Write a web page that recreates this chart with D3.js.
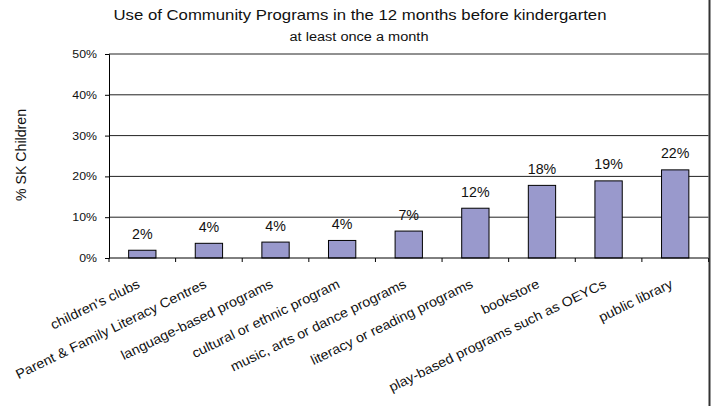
<!DOCTYPE html>
<html>
<head>
<meta charset="utf-8">
<script src="https://cdn.jsdelivr.net/npm/d3@7/dist/d3.min.js"></script>
<style>
  html, body { margin: 0; padding: 0; background: #fff; }
  svg { display: block; font-family: "Liberation Sans", Arial, sans-serif; }
</style>
</head>
<body>
<svg id="chart" width="712" height="406"></svg>
<script>
// Community program use, share of SK children (percent)
const categories = [
  "children's clubs",
  "Parent & Family Literacy Centres",
  "language-based programs",
  "cultural or ethnic program",
  "music, arts or dance programs",
  "literacy or reading programs",
  "bookstore",
  "play-based programs such as OEYCs",
  "public library"
];
const values = [1.9, 3.6, 3.9, 4.3, 6.6, 12.2, 17.8, 18.9, 21.6];
const yTicks = [0, 10, 20, 30, 40, 50];
const titleText = "Use of Community Programs in the 12 months before kindergarten";
const subtitleText = "at least once a month";
const yAxisTitle = "% SK Children";

const svg = d3.select("#chart");
const W = 712, H = 406;
const plot = { left: 109, right: 708.5, top: 54, bottom: 258 };

const x = d3.scaleBand().domain(categories).range([plot.left, plot.right]).padding(0);
const y = d3.scaleLinear().domain([0, 50]).range([plot.bottom, plot.top]);

// stretch helper: widen text horizontally by a factor
function stretch(sel, factor) {
  sel.each(function () {
    const len = this.getComputedTextLength();
    d3.select(this).attr("textLength", len * factor).attr("lengthAdjust", "spacingAndGlyphs");
  });
}

// horizontal gridlines
svg.append("g")
  .selectAll("line")
  .data(yTicks.filter(d => d > 0))
  .join("line")
  .attr("x1", plot.left).attr("x2", plot.right)
  .attr("y1", d => y(d)).attr("y2", d => y(d))
  .attr("stroke", "#222").attr("stroke-width", 1);

// y axis
const yAxis = svg.append("g")
  .attr("transform", `translate(${plot.left},0)`)
  .call(d3.axisLeft(y).tickValues(yTicks).tickFormat(d => d + "%").tickSize(4).tickPadding(8));
yAxis.select(".domain").attr("stroke", "#000");
yAxis.selectAll(".tick line").attr("stroke", "#000");
yAxis.selectAll("text")
  .attr("font-size", 11)
  .attr("font-family", "Liberation Sans, Arial, sans-serif")
  .attr("fill", "#111")
  .call(stretch, 1.12);

// bars
const barW = x.bandwidth() * 0.41;
svg.append("g")
  .selectAll("rect")
  .data(values)
  .join("rect")
  .attr("x", (d, i) => x(categories[i]) + (x.bandwidth() - barW) / 2)
  .attr("y", d => y(d))
  .attr("width", barW)
  .attr("height", d => y(0) - y(d))
  .attr("fill", "#9999cc")
  .attr("stroke", "#000")
  .attr("stroke-width", 1);

// x axis with boundary ticks
const xAxisG = svg.append("g").attr("transform", `translate(0,${plot.bottom})`);
xAxisG.append("line")
  .attr("x1", plot.left).attr("x2", plot.right)
  .attr("y1", 0).attr("y2", 0)
  .attr("stroke", "#000");
const boundaries = categories.map(c => x(c)).concat([plot.right]);
xAxisG.selectAll("line.tk")
  .data(boundaries)
  .join("line")
  .attr("class", "tk")
  .attr("x1", d => d).attr("x2", d => d)
  .attr("y1", 0).attr("y2", 4)
  .attr("stroke", "#000");

// category labels, rotated
svg.append("g")
  .selectAll("text")
  .data(categories)
  .join("text")
  .attr("transform", d => `translate(${x(d) + x.bandwidth() / 2 - 1.5},287) rotate(-26)`)
  .attr("text-anchor", "end")
  .attr("font-size", 13.4)
  .attr("fill", "#111")
  .text(d => d)
  .call(stretch, 1.07);

// value labels
svg.append("g")
  .selectAll("text")
  .data(values)
  .join("text")
  .attr("x", (d, i) => x(categories[i]) + x.bandwidth() / 2)
  .attr("y", d => y(d) - 11.5)
  .attr("text-anchor", "middle")
  .attr("font-size", 13.8)
  .attr("fill", "#111")
  .text(d => Math.round(d) + "%")
  .call(stretch, 1.03);

// titles
svg.append("text")
  .attr("x", 360).attr("y", 20)
  .attr("text-anchor", "middle")
  .attr("font-size", 14.2)
  .attr("fill", "#111")
  .text(titleText)
  .attr("textLength", 493).attr("lengthAdjust", "spacingAndGlyphs");

svg.append("text")
  .attr("x", 359).attr("y", 40.5)
  .attr("text-anchor", "middle")
  .attr("font-size", 12.5)
  .attr("fill", "#111")
  .text(subtitleText)
  .attr("textLength", 139).attr("lengthAdjust", "spacingAndGlyphs");

// y axis title
svg.append("text")
  .attr("transform", "translate(26,155) rotate(-90)")
  .attr("text-anchor", "middle")
  .attr("font-size", 14)
  .attr("fill", "#111")
  .text(yAxisTitle)
  .attr("textLength", 92).attr("lengthAdjust", "spacingAndGlyphs");

// chart border on the right edge
svg.append("line")
  .attr("x1", 709.5).attr("x2", 709.5)
  .attr("y1", 0).attr("y2", H)
  .attr("stroke", "#333").attr("stroke-width", 2);
</script>
</body>
</html>
